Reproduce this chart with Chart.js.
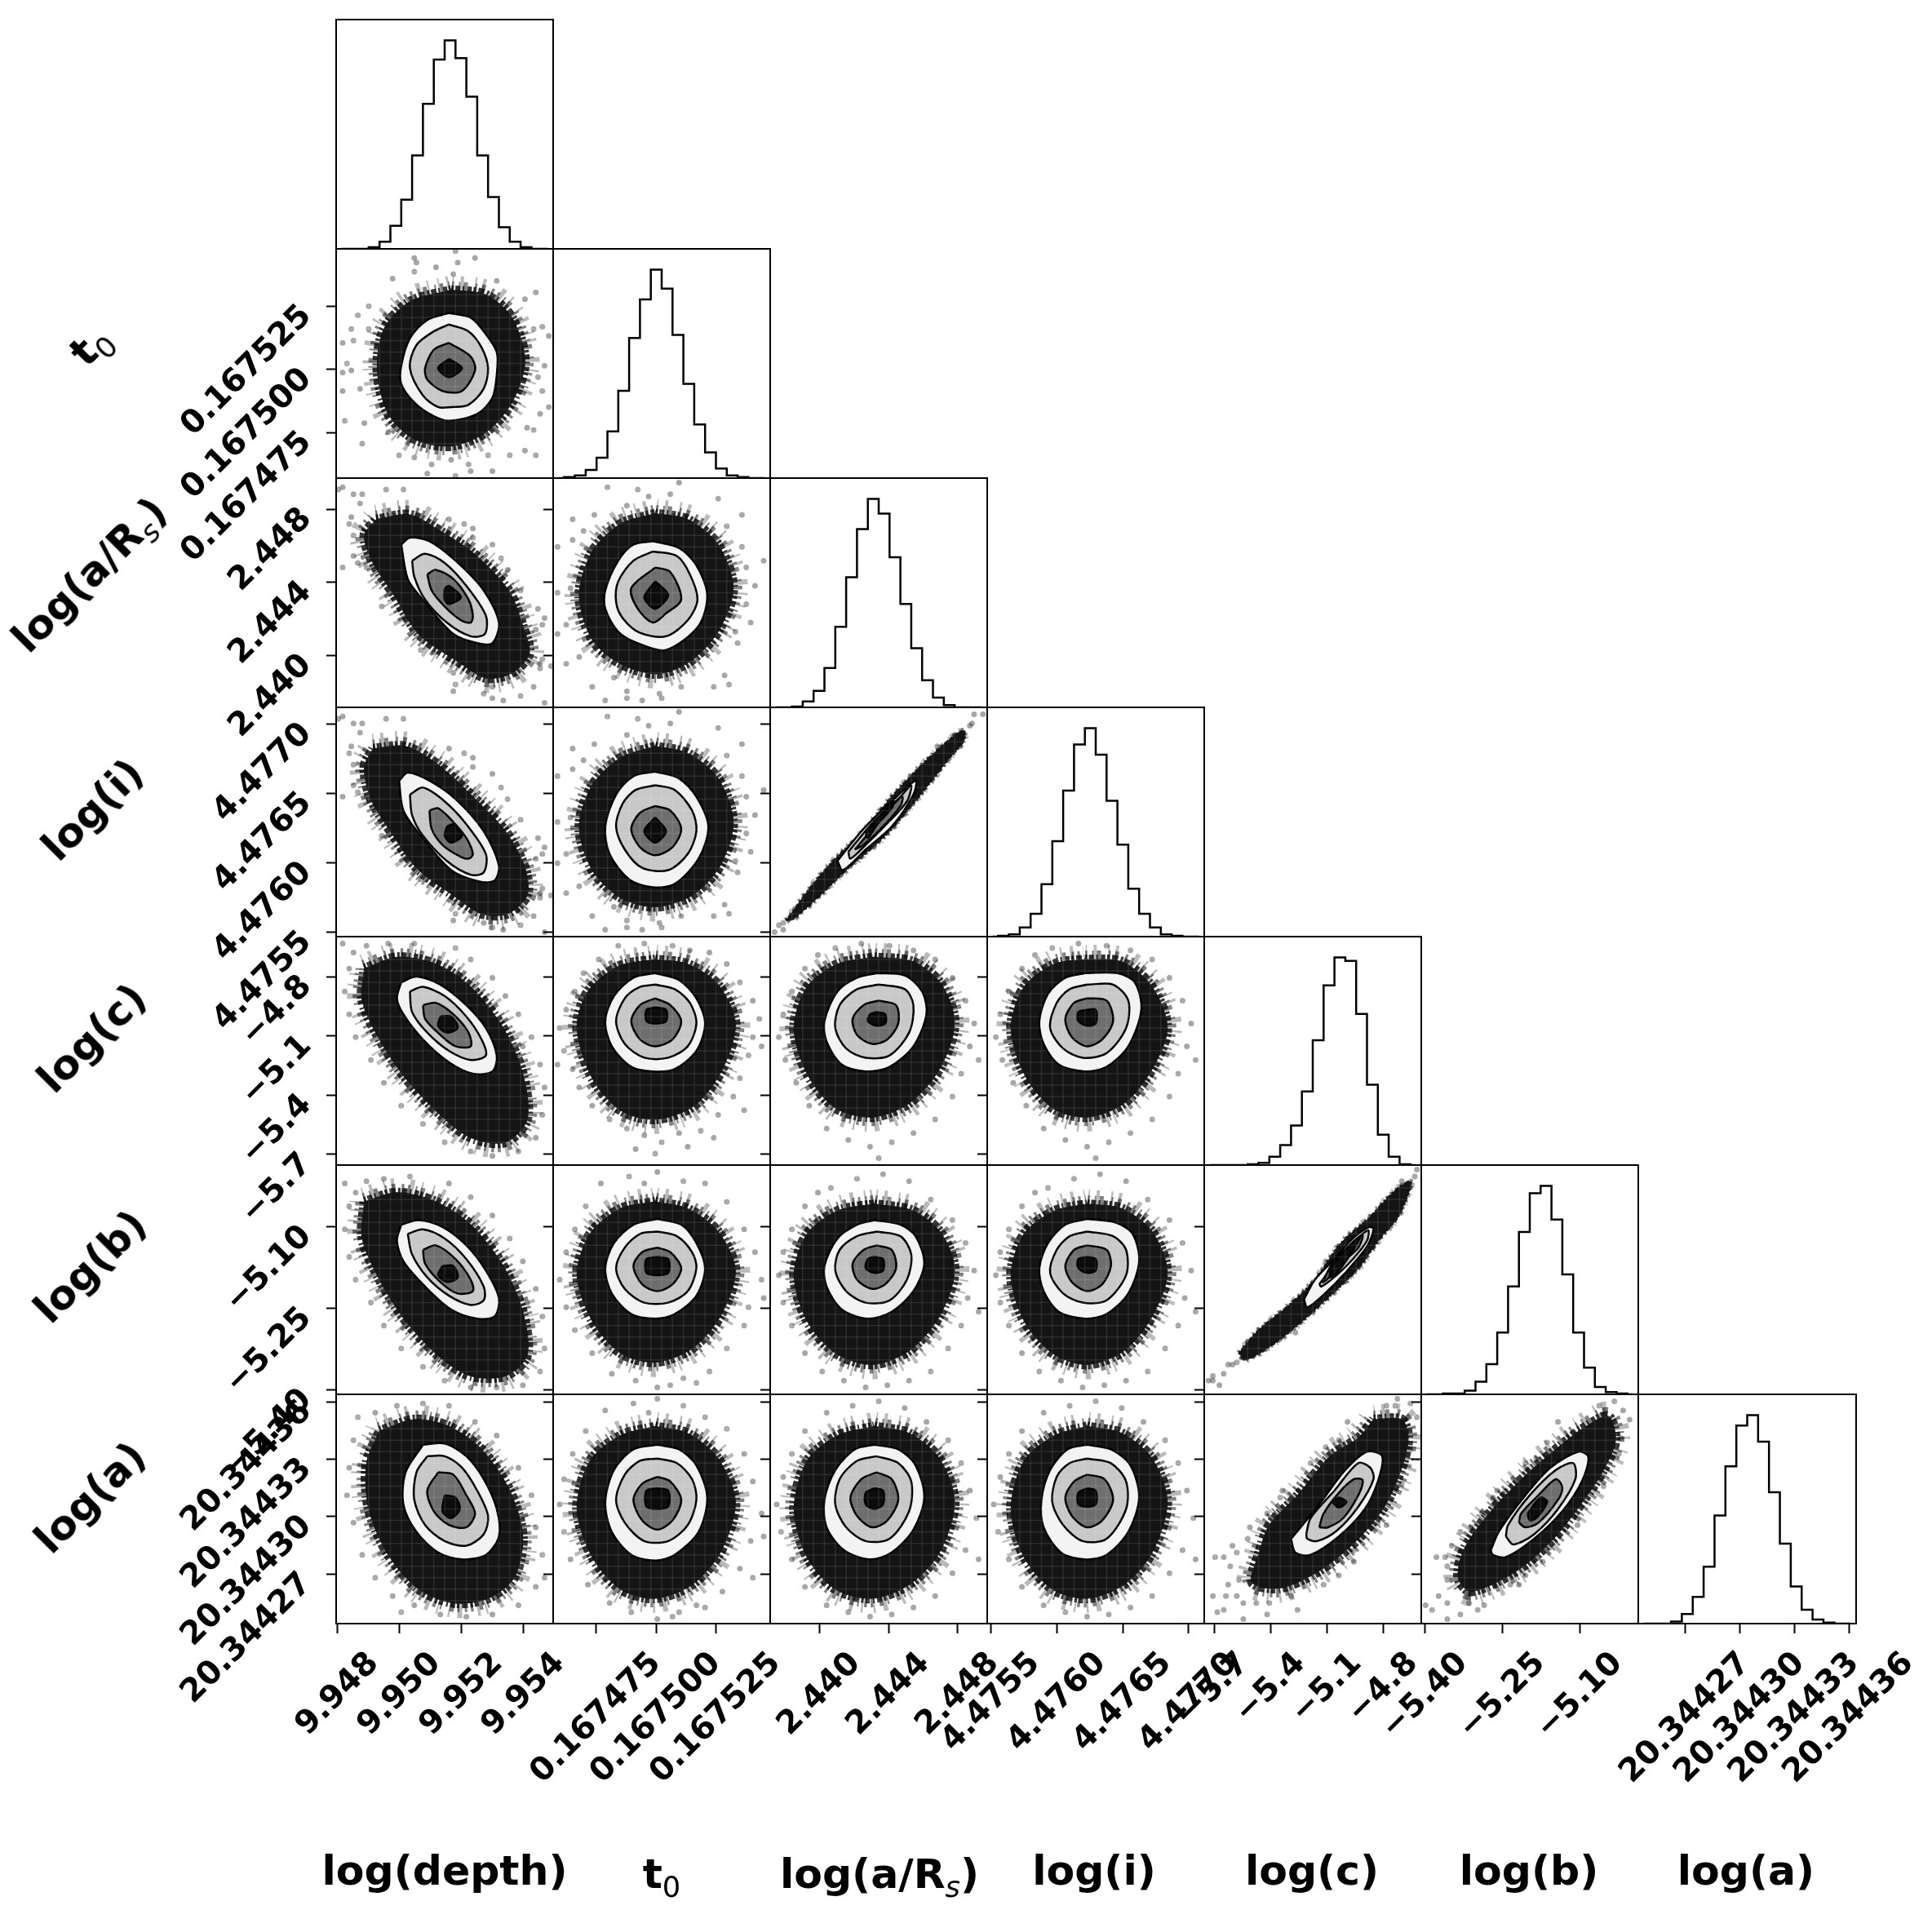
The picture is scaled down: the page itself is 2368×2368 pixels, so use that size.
<!DOCTYPE html>
<html>
<head>
<meta charset="utf-8">
<title>Corner plot</title>
<script src="https://cdn.jsdelivr.net/npm/chart.js@4"></script>
<style>
  html, body { margin: 0; background: #fff; }
  #corner { position: relative; width: 2368px; height: 2368px; overflow: hidden; filter: blur(0.6px); }
  #corner canvas { position: absolute; }
  .name { position: absolute; font: bold 50.5px 'DejaVu Sans', sans-serif; color: #000; white-space: nowrap; transform: translate(-50%, -50%); }
  .name.side { transform: translate(-50%, -50%) rotate(-45deg); }
  .name sub { font-size: 0.7em; font-weight: normal; line-height: 0; }
</style>
</head>
<body>
<div id="corner"></div>
<script>
// Axis ranges and ticks of the seven parameters
const rangeDepth = [9.94795, 9.95495];
const rangeT0 = [0.167457, 0.1675477];
const rangeARs = [2.43715, 2.4497];
const rangeI = [4.47547, 4.47712];
const rangeC = [-5.754, -4.597];
const rangeB = [-5.4076, -4.9869];
const rangeA = [20.344244, 20.344364];

const ticksDepth = [9.948, 9.95, 9.952, 9.954];
const ticksT0 = [0.167475, 0.1675, 0.167525];
const ticksARs = [2.44, 2.444, 2.448];
const ticksI = [4.4755, 4.476, 4.4765, 4.477];
const ticksC = [-5.7, -5.4, -5.1, -4.8];
const ticksB = [-5.4, -5.25, -5.1];
const ticksA = [20.34427, 20.3443, 20.34433, 20.34436];

const labelsDepth = ['9.948', '9.950', '9.952', '9.954'];
const labelsT0 = ['0.167475', '0.167500', '0.167525'];
const labelsARs = ['2.440', '2.444', '2.448'];
const labelsI = ['4.4755', '4.4760', '4.4765', '4.4770'];
const labelsC = ['\u22125.7', '\u22125.4', '\u22125.1', '\u22124.8'];
const labelsB = ['\u22125.40', '\u22125.25', '\u22125.10'];
const labelsA = ['20.34427', '20.34430', '20.34433', '20.34436'];

// Histogram counts, 20 bins, peak scaled to 1000
const histDepth = [0,0,0,8,34,111,236,448,696,908,1000,915,730,448,249,104,34,8,0,0];
const histT0 = [0,5,13,39,98,224,419,672,857,1000,909,687,452,257,123,46,13,5,0,0];
const histARs = [0,0,4,28,79,189,387,624,855,1000,930,720,496,284,130,47,11,0,0,0];
const histI = [0,4,11,44,110,252,458,701,922,1000,873,652,441,230,110,44,11,4,0,0];
const histC = [0,0,0,0,4,11,40,96,191,355,601,865,1000,983,728,387,146,40,4,0];
const histB = [0,0,4,4,18,61,145,297,518,779,965,1000,839,575,297,128,35,11,4,0];
const histA = [0,0,0,10,46,128,273,519,755,950,1000,873,630,384,178,67,20,5,0,0];

// Density outlines as flat x,y lists in percent of each axis range: outer edge, then the four contours
const t0Depth = [
  [53,82,69,80,81,70,87,51,81,33,69,20,53,14,36,17,24,28,19,47,22,65,34,77],
  [52,72,62,70,68,64,74,55,74,45,72,35,65,28,52,25,45,27,36,33,30,41,30,49,34,61,42,69],
  [52,67,61,64,67,57,70,48,68,39,61,32,53,31,47,31,40,36,34,48,37,58,45,64],
  [52,59,62,53,64,47,58,38,49,38,42,43,41,48,45,56],
  [52,52,58,48,52,44,47,48]];
const aRsDepth = [
  [18.5,82,34,84,47,77.5,63,67.5,79.5,51,86,35.5,89,23.5,81,15,69,12.8,56,20,38,32,26,50,17,63,13,75],
  [30,71,34,74,43,72.5,55,64,68,51,75,37,72,28,65,28,54,32,39,48,33,56],
  [35,64,41,67,50,63,60,53,69,40,68.5,32,62,31,51,37,41,47,36,57],
  [42,58,46,60,54,56,61,47,63,40,62,37,57.5,38,50,44,44,51],
  [50,52,52,53,57.5,48,52,45,50,47]];
const aRsT0 = [
  [47,84.5,62,82,76,71,83,52,76,33,63,20,48,14.6,31,19,18,29.5,12,49,18,68,31,80],
  [46,72.5,58,69.5,66,62,71,49,67,35.5,52,25,39,28,30,33,24,43,24,51,30,64,37,71],
  [46,68,57,66,63,58,66.5,47,62,38,52,31,40,32.5,32,39,29,46,30,55,37,64],
  [47,61,54,59,59,47,52,41,46,37,39,43,36,52],
  [47,55,53,49,47,43,42,48]];
const iDepth = [
  [17,82,32,83,47,75,62,62,78,46,87,30,88,18,79,10,67,10,54,18,37,30,25,46,16,60,13,74],
  [29,68,33,71.5,43,68,55,60,68,46,75,31,73,24.5,66,24,53,29,39,44,31,55],
  [34,62,40,65,50,59,60,49,69,36,68,28,62,27,51,33,40,44,35,53],
  [43,55,47,56,54,50,60,43,63,36,61,34,57,35,49,40,44,47],
  [51,48,54,49,58,44,53,41,50,44]];
const iT0 = [
  [47,83,62,80,76,69,83,50,77,31,64,18,47,13,31,17,18,29,12,48,18,66,31,78],
  [47,72,58,69,66,61,71.5,48,67,34,56,23,46,21.5,35,25,26,36,24,48,29,62,37,70],
  [47,66,56,64,64,55,66,46,62,36,53,29,41,30,33,38,29,48,32,58,38,64],
  [47,57,54,55,59,47,55,39,47,35.5,40,39,36,47,40,54],
  [47,52,52,46,47,41,42,46]];
const iARs = [
  [7.4,7,19,22,30,34,42,45,56,61,71,76,84,87,89,90,89.5,86,81,76,68.5,61,53,44,35,29,23,18,11,8],
  [31,33,43,47,56,59,67,68,66,62,56,48,44,38,33.5,29],
  [36,37,48,50.5,60,61,65,66,63,59,53,48.5,44,40,37,34],
  [39,38,48,48,57,58,61,61,60,57,51,47,43,40],
  [44,45,51,53,57,59,56,56,49,48.5,45,43]];
const cDepth = [
  [13,86,28,91,46,88,62,78,77,60,86,40,88,20,78,10,62,12,48,22,32,38,20,55,12,72],
  [30,80,37,82.5,48,79,60,70,69,60,74,48,72,41,63,40,52,45,40,55,31,66,28,73],
  [34,76,40,78,50,74,60,65,67,55,69,48,62,46,52,50,42,58,35,67],
  [40,70,46,71,54,66,61,58,62,52,55,52,48,57,41,64],
  [48,65,53,65,56,60,51,58,47,61]];
const cT0 = [
  [47,90,62,88,76,79,84,62,78,42,65,26,47,20,31,24,18,38,11,60,16,76,30,87],
  [47,84,58,81,66,73,70,62,66,50,56,42,46,41,36,43,27,52,24,63,28,74,37,82],
  [47,79,56,77,63,71,66,62,62,52,53,47,42,47,33,53,29,63,33,73,40,78],
  [47,73,54,70,59,63,55,55,47,52,40,55,36,63,40,70],
  [47,69,52,68,52,63,47,62,43,63,43,68]];
const cARs = [
  [48,91,66,89,79,79,85,62,78,42,64,27,47,21,30,25,17,40,11,60,17,78,31,88],
  [49,84,62,83,70,76,72,66,66,52,55,43,44,41,33,44,26,54,25,63,31,76,40,82],
  [50,79,62,77,66,70,64,58,55,48,44,47,35,51,30,60,32,70,40,77],
  [50,72,58,70,59,62,54,55,47,53,40,57,38,64,43,70],
  [49,67,53,66,53,62,49,61,45,63,46,66]];
const cI = [
  [45,90,62,89,76,78,83,60,76,42,63,27,46,21,30,25,17,40,11,60,17,78,31,88],
  [45,84,60,84,68,80,71,68,65,52,55,43,45,41,33,44,26,53,24,63,28,75,36,82],
  [46,79,58,79,65,72,64,60,55,49,44,47,35,51,29,60,32,71,38,77],
  [46,73,55,72,58,63,53,55,46,52,39,56,36,64,40,71],
  [46,68,50,68,50,62,46,61,42,63,42,67]];
const bDepth = [
  [13,84,28,88,46,84,62,74,77,56,86,36,88,17,78,8,62,8,48,16,32,32,20,50,12,68],
  [30,74,38,76,49,73,60,65,69,54,75,42,73,34,65,33,53,37,41,47,31,58,28,67],
  [33,70,40,72,50,68,60,59,68,47,68,41,62,39,52,43,42,51,35,61],
  [40,63,46,65,55,59,62,50,63,45,56,44,48,49,41,57],
  [49,56,54,56,56,51,51,49,47,52]];
const bT0 = [
  [47,84,62,81,76,71,84,54,77,34,64,20,47,14,31,18,18,32,11,52,17,70,31,81],
  [48,76.5,59,74,66,66,70,55,66,43,56,35,47,33,36,35,27,44,24,55,28,66,37,74],
  [48,71,57,69,64,62,66,55,62,45,53,40,42,40,33,46,29,55,33,64,40,70],
  [48,64,54,62,59,55,55,48,48,45,41,48,37,56,41,62],
  [48,60,53,59,53,53,48,52,43,53,43,59]];
const bARs = [
  [48,83,66,80,79,70,85,54,78,34,64,19,47,13,30,18,17,32,11,52,17,70,31,80],
  [48,76,60,74,67,69,71,57,66,45,56,36,45,33,33,37,26,47,25,56,31,68,40,74],
  [49,71,60,69,65,61,63,50,55,41,44,40,35,45,30,54,32,63,40,69],
  [49,65,56,63,58,55,53,48,47,46,40,50,38,57,43,63],
  [48,60,52,59,52,54,48,53,44,55,45,59]];
const bI = [
  [46,83,62,81,76,71,83,53,76,34,63,19,46,13,30,18,17,32,11,52,17,70,31,80],
  [46,76.5,59,75,67,70,70,58,65,44,55,35,45,33,33,36,26,45,24,55,28,66,36,74],
  [46,71,58,69,64,63,64,52,55,41,44,40,35,44,29,53,32,63,38,69],
  [46,65,55,63,57,56,53,48,46,45,39,49,36,56,40,63],
  [46,60,50,59,50,54,46,53,42,55,42,59]];
const bC = [
  [16,18,25,28,38,38,51,50,63,66,76,77,88,89,95,93,95,90,89,77,81,68,71,55,58,43,44,31,32,22,19,15],
  [46,41.5,51,50,60,59,68.5,68,76,73,78,72,75,64.5,65,53,54.5,43,47.5,38],
  [53,48,60,57,68.5,66,75.5,71.5,75,67,68.5,59,61,52,54,47],
  [54.5,48.6,59,57,68.5,66,73,69.5,71,64,63,57,57,50.5],
  [58,54,62,60,68,66,72,69,68,62,62,54,58,51]];
const aDepth = [
  [20,84,36,89,52,86,67,76,80,58,86,38,82,20,70,11,54,9,38,15,24,30,15,50,14,70],
  [40,78,50,78.5,60,73,68,63,74,50,75,38,69,30,58,28,47,31,37,40,31,52,32,66],
  [42,73,50,73,58,68,65,58,70,47,68,39,60,34,50,36,41,43,36,54,37,66],
  [47,66,54,65,60,56,64,48,60,42,52,43,45,49,42,58],
  [50,56,55,55,57,50,53,46,49,49]];
const aT0 = [
  [47,86,62,83,76,72,84,53,77,31,64,17,47,11,31,15,18,29,11,50,17,71,31,82],
  [48,78,58,76,66,69,71,55,67,40,56,30,47,27.5,36,30,27,40,24,53,28,67,37,76],
  [48,72,57,70,64,63,66,54,62,43,53,36,42,36,33,44,29,54,33,65,40,71],
  [48,64,54,62,59,54,55,45,48,41,41,45,37,54,41,61],
  [48,59,53,58,53,51,48,50,43,51,43,58]];
const aARs = [
  [48,86,64,83,78,72,85,53,78,31,64,17,47,11,30,15,17,29,11,50,17,71,31,82],
  [48,78,59,76,67,69,71,55,66,41,56,31,46,28,34,32,26,42,25,54,30,67,39,76],
  [49,73,59,70,65,62,64,49,55,37,44,36,35,42,30,52,32,63,40,71],
  [49,66,56,63,59,54,54,45,47,42,40,47,37,55,42,63],
  [48,59,52,58,52,52,48,50,44,52,44,57]];
const aI = [
  [46,86,62,83,76,72,83,53,76,31,63,17,46,11,30,15,17,29,11,50,17,71,31,82],
  [46,78,57,76,66,69,70,55,65,40,55,30,45,28,34,31,26,42,25,54,29,67,37,76],
  [46,72,57,70,64,62,64,50,55,37,44,36,35,43,30,53,32,64,38,70],
  [46,65,54,63,58,54,53,45,46,42,39,47,36,55,40,62],
  [46,59,50,58,50,52,46,51,42,52,42,57]];
const aC = [
  [78,89,91,89,94,81,91,68,83,51,70,36,53,23,35,15.5,22,18,25,30,30,43,43,56,58,73,71,81],
  [40,37,53,52,65,67,75,75,82,73,80,62,74,50,62,38,49,30,42,31],
  [47,39,49,46,60,58,71,70,76.5,68,78,63,71,51,61,40.5,52,36,47.5,37],
  [53,42,55,48,62,57,69,63,73,62.5,71,56,64,46,57,42],
  [59,53,62,55,65.5,53,62,50.6]];
const aB = [
  [72.5,84,86,90.5,89.5,80,84,67,75,54,61,37,44,23,23,14,17,20,20,33,33,50,49,65.5,62,76],
  [32,32,36,40.5,48,56,59.5,68,72.5,75,77,72.6,74,62,65,49,52,37,39,29,33,30],
  [39,38,40,43,50,56,62,67,70,70,71,63,63,50,52,39,42.5,34.5],
  [45,44,46,48,54,56,62,63,65,59.5,63,54,54,44,48,42],
  [49,48,55,55,58,53,53,46,50,45]];

// Loose samples outside the dense region, flat x,y lists in percent of each axis range
const t0DepthDots = [36,96,37,94,55,99,64,96,56,94,46,92,54,89,36,90,26,87,74,86,92,81,87,78,15,75,10,71,7,65,15,65,3,59,8,60,98,62,95,66,91,65,96,49,5,50,7,47,3,46,3,38,95,38,98,31,94,28,4,25,13,24,24,20,12,15,88,22,91,21,87,12,92,10,29,10,36,9,44,6,53,8,61,6,70,10,42,2,55,1,62,3,72,3,80,10,11,39,93,44];
const aRsDepthDots = [3,96,1,95,8,93,12,93,23,95,31,95,11,89,7,83,6,80,8,75,8,66,10,63,3,61,14,61,21,44,52,82,59,80,63,78,63,74,72,71,76,65,79,60,85,51,93,43,96,39,95,36,92,34,85,28,94,19,95,21,99,18,94,17,54,15,55,10,54,7,72,4,77,3,85,5,96,2,68,6,39,25,45,24,72,9,91,9];
const aRsT0Dots = [39,95,25,96,54,93,58,98,44,92,34,88,76,91,87,84,80,79,9,82,14,77,9,73,19,84,87,70,89,61,97,64,2,70,93,53,2,50,8,52,89,45,6,36,2,32,91,37,85,28,6,19,79,14,18,9,28,13,24,3,34,4,41,3,49,6,59,9,74,9,81,10,50,4,34,7,12,22,84,33];
const iARsDots = [94,97,98,97,92,92,85,88,6,6,2,2,6,3,4,5,77,83,93,93];
const cDepthDots = [3,97,8,93,14,96,24,97,36,97,55,95,62,90,72,82,78,74,84,66,90,56,94,44,96,34,95,22,92,12,84,6,72,4,62,6,50,10,40,18,30,26,22,36,16,46,9,56,6,66,4,76,6,86,86,52];
const cT0Dots = [30,96,42,97,55,96,63,94,72,93,80,88,86,80,92,72,95,64,92,56,90,48,86,38,83,30,76,22,68,15,58,14,50,10,42,13,34,16,26,20,18,26,12,34,9,42,5,50,3,60,6,68,10,76,14,84,21,90,47,5,38,7,62,8,74,12,96,52,2,44,88,24];
const cARsDots = [30,95,42,97,55,96,66,94,76,90,84,82,90,72,94,62,92,52,88,40,84,30,76,20,66,14,56,10,46,8,36,11,26,16,18,26,12,36,7,46,4,56,6,66,10,76,16,86,22,92,96,46,50,3];
const bDepthDots = [4,92,9,88,14,93,22,94,34,95,52,92,62,86,72,78,80,68,86,58,92,46,95,34,96,20,94,10,86,4,74,3,62,3,50,6,40,12,30,20,22,30,16,40,9,50,6,60,4,72,6,82,88,40];
const bT0Dots = [22,92,35,95,48,97,60,93,70,92,80,84,88,72,93,62,96,50,90,38,88,30,80,20,72,10,60,7,48,3,38,6,27,9,18,18,10,28,6,38,3,50,6,62,10,72,15,82,42,92,54,4,66,5,97,42];
const bARsDots = [28,90,40,94,52,96,64,93,74,85,84,76,90,66,94,54,91,42,88,30,82,20,74,10,64,6,54,4,44,3,34,6,24,10,16,18,10,30,6,40,4,52,6,62,10,72,16,82,22,88,96,36];
const bCDots = [4,8,9,9,7,4,2,6,98,98,97,95,11,13,15,14,20,23,42,27,91,93,4,6,13,13,56,58];
const aDepthDots = [10,90,18,92,28,95,40,96,52,95,64,88,74,82,84,68,90,56,92,42,95,30,92,16,84,8,72,4,60,3,48,4,36,8,26,12,18,20,12,30,8,44,5,56,6,68,8,80,96,20,30,5];
const aT0Dots = [24,93,37,96,48,98,60,95,70,90,80,85,88,74,92,62,96,48,91,36,86,24,78,14,70,7,58,5,48,2,36,5,26,9,16,17,8,28,5,40,3,52,5,63,9,74,15,84,44,92,55,3,66,8,97,38,92,20];
const aARsDots = [26,92,38,95,50,97,62,94,72,88,82,80,88,70,92,58,95,46,90,32,84,22,76,12,66,7,56,4,46,3,36,5,26,8,16,16,10,28,5,40,3,52,6,64,10,74,16,84,96,28];
const aCDots = [84,95,89,98,95,96,98,90,88,95,66,88,62,80,56,77,49,70,36,58,35,55,29,48,21,42,20,37,13,34,15,31,5,29,9,29,12,25,16,19,4,12,11,17,10,12,15,12,18,9,6,5,9,6,29,4,43,6,40,12,30,9,24,9,55,17,62,21,69,27,69,32,84,43,80,44,91,61,95,76,18,2];
const aBDots = [89,97,82,95,83,91,93,93,96,89,92,81,91,74,63,88,58,79,53,72,48,70,39,58,35,58,33,55,28,48,23,42,18,40,14,34,7,29,11,29,12,25,12,19,8,12,12,9,5,6,2,8,18,4,26,6,29,8,22,9,41,17,45,17,48,21,56,27,59,33,72,43,84,60,12,2];

// Grid layout of the page, in pixels
const colX = [412, 678, 944, 1210, 1476, 1742, 2008, 2275];
const rowY = [24, 305, 586, 867, 1148, 1428, 1709, 1990];

const ranges = [rangeDepth, rangeT0, rangeARs, rangeI, rangeC, rangeB, rangeA];
const tickValues = [ticksDepth, ticksT0, ticksARs, ticksI, ticksC, ticksB, ticksA];
const tickLabels = [labelsDepth, labelsT0, labelsARs, labelsI, labelsC, labelsB, labelsA];
const histograms = [histDepth, histT0, histARs, histI, histC, histB, histA];

const tickFont = { family: "'DejaVu Sans', sans-serif", weight: 'bold', size: 39.5 };
const fillColors = ['#141414', '#f3f3f3', '#c8c8c8', '#6e6e6e', '#0c0c0c'];

const measure = document.createElement('canvas').getContext('2d');
measure.font = "bold 39.5px 'DejaVu Sans', sans-serif";

function toValue(range, percent) {
  return range[0] + (percent / 100) * (range[1] - range[0]);
}

function toPoints(flat, xRange, yRange) {
  const pts = [];
  for (let k = 0; k < flat.length; k += 2) {
    pts.push({ x: toValue(xRange, flat[k]), y: toValue(yRange, flat[k + 1]) });
  }
  return pts;
}

// Frame round the axes, plus the faint lines between the 2d histogram bins
Chart.register({
  id: 'panelFrame',
  afterDatasetsDraw(chart, args, opts) {
    const { ctx, chartArea: a } = chart;
    ctx.save();
    if (opts.bins) {
      ctx.strokeStyle = 'rgba(255,255,255,0.1)';
      ctx.lineWidth = 1.5;
      for (let k = 1; k < 20; k++) {
        const px = a.left + (k * a.width) / 20;
        const py = a.top + (k * a.height) / 20;
        ctx.beginPath();
        ctx.moveTo(px, a.top);
        ctx.lineTo(px, a.bottom);
        ctx.moveTo(a.left, py);
        ctx.lineTo(a.right, py);
        ctx.stroke();
      }
    }
    ctx.strokeStyle = '#000';
    ctx.lineWidth = 2;
    ctx.strokeRect(a.left, a.top, a.width, a.height);
    ctx.restore();
  }
});

function edgeRing(points, color, width, dash) {
  return { data: points, borderColor: color, borderWidth: width, borderDash: dash, pointRadius: 0, tension: 0.3, fill: false };
}

function panelDatasets(contours, dots, xRange, yRange, thin) {
  const sets = [];
  // the first dataset is drawn last, so the innermost contour goes first
  for (let lvl = contours.length - 1; lvl >= 0; lvl--) {
    const pts = toPoints(contours[lvl], xRange, yRange);
    pts.push(pts[0]);
    sets.push({
      data: pts,
      fill: 'shape',
      backgroundColor: fillColors[lvl],
      borderColor: lvl === 0 ? fillColors[0] : '#000',
      borderWidth: lvl === 0 ? 1 : 2.5,
      pointRadius: 0,
      tension: 0.3
    });
  }
  // broken, uneven strokes along the outer outline give the cloud its loose edge
  const outer = toPoints(contours[0], xRange, yRange);
  outer.push(outer[0]);
  sets.push(edgeRing(outer, 'rgba(10,10,10,0.85)', thin ? 3 : 12, [3, 2, 6, 3, 2, 4, 5, 2, 3, 3, 7, 3]));
  sets.push(edgeRing(outer, 'rgba(0,0,0,0.5)', thin ? 6 : 22, [3, 6, 2, 4, 5, 9, 2, 5, 4, 7, 3, 4]));
  sets.push(edgeRing(outer, 'rgba(0,0,0,0.28)', thin ? 9 : 36, [2, 9, 4, 13, 2, 6, 3, 17, 5, 8, 2, 11]));
  sets.push({ data: toPoints(dots, xRange, yRange), showLine: false, pointRadius: 3.5, pointBackgroundColor: 'rgba(0,0,0,0.35)', pointBorderWidth: 0 });
  return sets;
}

function histDataset(counts, xRange) {
  const w = (xRange[1] - xRange[0]) / counts.length;
  return [{
    data: counts.map((c, k) => ({ x: xRange[0] + (k + 0.5) * w, y: c })),
    stepped: 'middle',
    borderColor: '#000',
    borderWidth: 2.5,
    pointRadius: 0,
    fill: false
  }];
}

function fixedAxis(size) {
  return (s) => {
    if (s.isHorizontal()) s.height = size; else s.width = size;
    s.paddingLeft = s.paddingRight = s.paddingTop = s.paddingBottom = 0;
  };
}

function addPanel(row, col, datasets, isHist) {
  // room round the axes for tick marks and the rotated labels, which overlap the neighbours
  const leftSize = col === 0 ? 412 : (row === 6 ? 200 : 14);
  const bottomSize = row === 6 ? 2368 - rowY[7] : (col === 0 ? 190 : 4);
  const rightSize = row === 6 ? (col === 6 ? 93 : 100) : 4;
  const topSize = 20;
  const showY = !isHist;
  const showX = row === 6;

  const cv = document.createElement('canvas');
  cv.width = leftSize + colX[col + 1] - colX[col] + rightSize;
  cv.height = topSize + rowY[row + 1] - rowY[row] + bottomSize;
  cv.style.left = (colX[col] - leftSize) + 'px';
  cv.style.top = (rowY[row] - topSize) + 'px';
  document.getElementById('corner').appendChild(cv);

  const xTicks = tickValues[col];
  const yTicks = showY ? tickValues[row] : [];
  new Chart(cv, {
    type: 'line',
    data: { datasets },
    options: {
      responsive: false,
      animation: false,
      devicePixelRatio: 1,
      layout: { padding: { top: topSize, right: rightSize, left: showY ? 0 : leftSize, bottom: showX ? 0 : bottomSize } },
      plugins: { legend: { display: false }, tooltip: { enabled: false }, panelFrame: { bins: !isHist } },
      scales: {
        x: {
          type: 'linear',
          display: showX,
          min: ranges[col][0],
          max: ranges[col][1],
          afterBuildTicks: (s) => { s.ticks = xTicks.map((v) => ({ value: v })); },
          afterFit: showX ? fixedAxis(bottomSize) : undefined,
          border: { display: false },
          grid: { drawOnChartArea: false, tickLength: 12, tickWidth: 2, tickColor: '#000' },
          ticks: {
            autoSkip: false,
            minRotation: 45,
            maxRotation: 45,
            padding: 14,
            color: '#000',
            font: tickFont,
            labelOffset: measure.measureText(tickLabels[col][0]).width * 0.354,
            callback: (v, k) => tickLabels[col][k]
          }
        },
        y: {
          type: 'linear',
          display: showY,
          min: isHist ? 0 : ranges[row][0],
          max: isHist ? 1100 : ranges[row][1],
          afterBuildTicks: (s) => { s.ticks = yTicks.map((v) => ({ value: v })); },
          afterFit: showY ? fixedAxis(leftSize) : undefined,
          border: { display: false },
          grid: { drawOnChartArea: false, tickLength: 12, tickWidth: 2, tickColor: '#000' },
          ticks: {
            display: col === 0,
            autoSkip: false,
            minRotation: 45,
            maxRotation: 45,
            padding: 24,
            labelOffset: 6,
            color: '#000',
            font: tickFont,
            callback: (v, k) => (isHist ? '' : tickLabels[row][k])
          }
        }
      }
    }
  });
}

// row, column, outlines, loose samples, narrow ridge
const panels = [
  [1, 0, t0Depth, t0DepthDots, false],
  [2, 0, aRsDepth, aRsDepthDots, false], [2, 1, aRsT0, aRsT0Dots, false],
  [3, 0, iDepth, aRsDepthDots, false], [3, 1, iT0, aRsT0Dots, false], [3, 2, iARs, iARsDots, true],
  [4, 0, cDepth, cDepthDots, false], [4, 1, cT0, cT0Dots, false], [4, 2, cARs, cARsDots, false], [4, 3, cI, cARsDots, false],
  [5, 0, bDepth, bDepthDots, false], [5, 1, bT0, bT0Dots, false], [5, 2, bARs, bARsDots, false], [5, 3, bI, bARsDots, false], [5, 4, bC, bCDots, true],
  [6, 0, aDepth, aDepthDots, false], [6, 1, aT0, aT0Dots, false], [6, 2, aARs, aARsDots, false], [6, 3, aI, aARsDots, false], [6, 4, aC, aCDots, false], [6, 5, aB, aBDots, false]
];

panels.forEach(([row, col, contours, dots, thin]) => {
  addPanel(row, col, panelDatasets(contours, dots, ranges[col], ranges[row], thin), false);
});
histograms.forEach((counts, k) => {
  addPanel(k, k, histDataset(counts, ranges[k]), true);
});

// Parameter names along the bottom and the left side
const bottomNames = [
  ['log(depth)', 545, 2292], ['t<sub>0</sub>', 811, 2296], ['log(a/R<sub><i>s</i></sub>)', 1078, 2296],
  ['log(i)', 1341, 2292], ['log(c)', 1608, 2292], ['log(b)', 1874, 2292], ['log(a)', 2140, 2292]
];
const sideNames = [
  ['t<sub>0</sub>', 110, 423], ['log(a/R<sub><i>s</i></sub>)', 109, 704], ['log(i)', 113, 992],
  ['log(c)', 112, 1272], ['log(b)', 110, 1552], ['log(a)', 110, 1835]
];
function addName(item, cls) {
  const el = document.createElement('div');
  el.className = cls;
  el.innerHTML = item[0];
  el.style.left = item[1] + 'px';
  el.style.top = item[2] + 'px';
  document.getElementById('corner').appendChild(el);
}
bottomNames.forEach((n) => addName(n, 'name'));
sideNames.forEach((n) => addName(n, 'name side'));
</script>
</body>
</html>
